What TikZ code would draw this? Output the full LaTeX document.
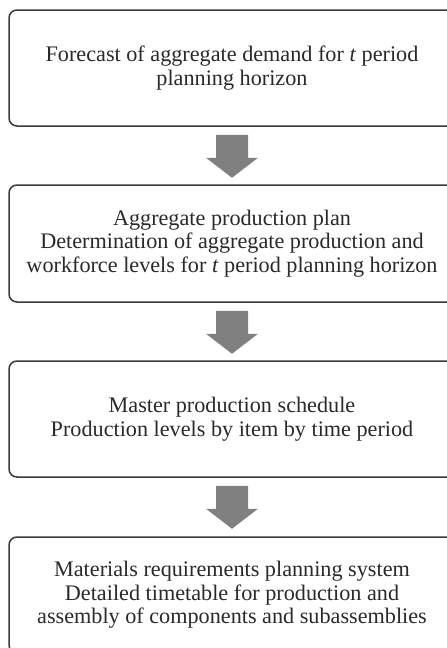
\documentclass[tikz,border=0pt]{standalone}
\usepackage{fontspec}
\setmainfont{Liberation Serif}
\usetikzlibrary{calc}
\definecolor{boxline}{HTML}{3A3A3A}
\definecolor{arrowgray}{HTML}{808080}
\definecolor{textcol}{HTML}{2A2A2A}
\tikzset{
  stagebox/.style={draw=boxline, line width=1.5pt, rounded corners=8pt,
    minimum width=446pt, inner sep=0pt, align=center, text=textcol,
    font=\fontsize{22.2}{23.5}\selectfont},
  flowarrow/.style={fill=arrowgray, draw=none}
}
% block arrow hanging below node #1
\newcommand{\blockarrow}[1]{%
  \fill[flowarrow] ($(#1.south)+(-16,8)$) -- ($(#1.south)+(16,8)$)
    -- ($(#1.south)+(16,31)$) -- ($(#1.south)+(26,31)$)
    -- ($(#1.south)+(0,51)$) -- ($(#1.south)+(-26,31)$)
    -- ($(#1.south)+(-16,31)$) -- cycle;}
\begin{document}
\begin{tikzpicture}[x=1pt,y=-1pt]
  \useasboundingbox (0,0) rectangle (447,648);
  \clip (0,0) rectangle (447,648);
  \fill[white] (0,0) rectangle (447,648);

  \node[stagebox, minimum height=116pt] (b1) at (232,68)
    {Forecast of aggregate demand for \textit{t} period\\planning horizon};
  \node[stagebox, minimum height=117pt] (b2) at (232,243.5)
    {Aggregate production plan\\Determination of aggregate production and\\workforce levels for \textit{t} period planning horizon};
  \node[stagebox, minimum height=116pt] (b3) at (232,419)
    {Master production schedule\\Production levels by item by time period};
  \node[stagebox, minimum height=116pt] (b4) at (232,595)
    {Materials requirements planning system\\Detailed timetable for production and\\assembly of components and subassemblies};

  \blockarrow{b1}
  \blockarrow{b2}
  \blockarrow{b3}
\end{tikzpicture}
\end{document}
